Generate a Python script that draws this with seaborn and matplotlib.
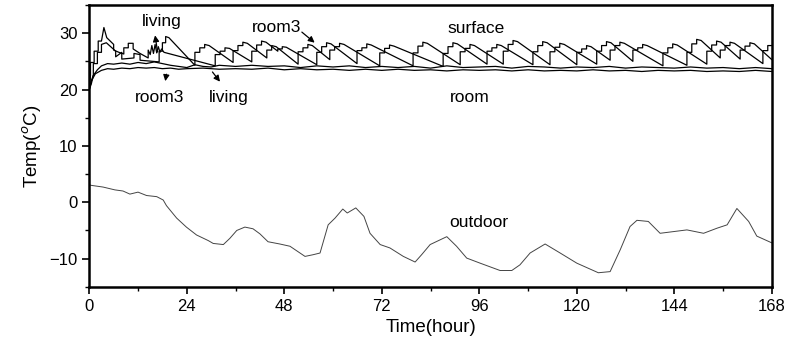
import matplotlib
matplotlib.use('Agg')

import numpy as np
import pandas as pd
import matplotlib.pyplot as plt
import seaborn as sns

# ------------------------------------------------------------------------
# data (time in hours, temperature in degC)
# ------------------------------------------------------------------------

outdoor_t = [0.0, 0.5, 3.4, 6.3, 8.3, 10.0, 12.0, 14.1, 16.6, 18.2, 19.0, 21.5, 23.9,
             26.4, 29.3, 30.5, 33.0, 34.6, 36.3, 38.3, 40.3, 42.0, 44.0, 46.9, 49.4,
             53.1, 55.1, 56.8, 58.8, 60.5, 62.4, 63.5, 65.6, 67.6, 69.1, 71.6, 74.0,
             77.3, 80.2, 81.8, 83.9, 88.0, 90.4, 92.9, 96.2, 101.1, 104.0, 106.0,
             108.5, 112.2, 115.9, 120.0, 125.3, 128.2, 130.7, 133.1, 134.8, 137.6,
             140.5, 143.8, 147.1, 151.2, 154.5, 157.0, 159.4, 162.3, 164.3, 168.0]
outdoor_T = [3.1, 3.0, 2.7, 2.2, 2.0, 1.45, 1.8, 1.2, 1.0, 0.4, -0.6, -2.8, -4.4,
             -5.8, -6.8, -7.3, -7.5, -6.4, -5.0, -4.4, -4.7, -5.6, -7.0, -7.4, -7.8,
             -9.6, -9.3, -9.0, -4.0, -2.8, -1.2, -1.9, -1.0, -2.5, -5.5, -7.5, -8.1,
             -9.6, -10.6, -9.3, -7.5, -6.1, -7.8, -9.9, -10.8, -12.1, -12.1, -11.1,
             -9.0, -7.4, -9.0, -10.8, -12.5, -12.3, -8.4, -4.3, -3.2, -3.4,
             -5.5, -5.2, -4.9, -5.5, -4.6, -4.0, -1.1, -3.4, -6.0, -7.2]

surf_living_t = [0, 0.3, 0.3, 1.2, 1.2, 2.2, 2.2, 3.0, 3.6, 4.3, 6.0, 6.0, 7.3, 8.5,
                 8.5, 9.6, 9.6, 10.8, 10.8, 12.5, 14.5,
                 14.5, 15.0, 15.4, 15.8, 16.2, 16.6, 17.0, 17.4, 17.8, 18.4, 31.0,
                 31.0, 32.2, 32.2, 33.4, 33.4, 34.5, 40.0,
                 40.0, 41.2, 41.2, 42.4, 42.4, 43.5, 46.4,
                 46.4, 47.5, 47.5, 48.5, 56.0,
                 56.0, 57.2, 57.2, 58.4, 58.4, 59.5, 65.9,
                 65.9, 67.1, 67.1, 68.3, 68.3, 69.4, 79.7,
                 79.7, 80.9, 80.9, 82.1, 82.1, 83.2, 91.3,
                 91.3, 92.5, 92.5, 93.7, 93.7, 94.8, 101.9,
                 101.9, 103.1, 103.1, 104.3, 104.3, 105.4, 113.4,
                 113.4, 114.6, 114.6, 115.8, 115.8, 116.9, 124.9,
                 124.9, 126.1, 126.1, 127.3, 127.3, 128.4, 133.8,
                 133.8, 135.0, 135.0, 136.2, 136.2, 137.3, 147.1,
                 147.1, 148.3, 148.3, 149.5, 149.5, 150.6, 155.3,
                 155.3, 156.5, 156.5, 157.7, 157.7, 158.8, 165.8,
                 165.8, 167.0, 167.0, 168.0]
surf_living_T = [20.0, 22.5, 24.8, 24.8, 26.8, 26.8, 28.6, 28.6, 31.0, 29.2, 28.0, 27.0, 26.6, 26.3,
                 27.4, 27.4, 28.2, 28.2, 27.2, 26.4, 25.6,
                 27.0, 26.2, 27.8, 26.4, 28.0, 26.5, 27.6, 26.6, 27.2, 26.6, 24.2,
                 26.2, 26.2, 26.8, 26.8, 27.4, 27.3, 24.9,
                 26.8, 26.8, 27.9, 27.9, 28.6, 28.4, 26.8,
                 27.2, 27.2, 27.6, 27.5, 24.4,
                 26.6, 26.6, 27.6, 27.6, 28.3, 28.1, 24.6,
                 26.9, 26.9, 27.4, 27.4, 28.1, 27.9, 24.2,
                 26.5, 26.5, 27.7, 27.7, 28.4, 28.2, 24.4,
                 26.7, 26.7, 27.3, 27.3, 28.0, 27.8, 24.5,
                 26.8, 26.8, 28.0, 28.0, 28.7, 28.5, 24.4,
                 26.7, 26.7, 27.5, 27.5, 28.2, 28.0, 24.5,
                 26.8, 26.8, 27.8, 27.8, 28.5, 28.3, 25.0,
                 27.0, 27.0, 27.4, 27.4, 28.0, 27.8, 24.3,
                 26.6, 26.6, 28.1, 28.1, 28.9, 28.7, 25.6,
                 27.0, 27.0, 27.8, 27.8, 28.4, 28.2, 24.6,
                 26.9, 26.9, 27.8, 27.8]

surf_room3_t = [0, 0.5, 1.0, 1.0, 2.0, 2.0, 3.0, 3.0, 4.2, 6.5, 6.5, 8.0, 8.0, 11.0, 11.0, 12.5, 12.5, 17.2,
                17.2, 18.0, 18.0, 18.8, 18.8, 19.6, 26.0,
                26.0, 27.2, 27.2, 28.4, 28.4, 29.5, 35.4,
                35.4, 36.6, 36.6, 37.8, 37.8, 38.9, 43.7,
                43.7, 44.9, 44.9, 46.0, 51.4,
                51.4, 52.6, 52.6, 53.8, 53.8, 54.9, 59.2,
                59.2, 60.4, 60.4, 61.6, 61.6, 62.7, 71.5,
                71.5, 72.7, 72.7, 73.9, 73.9, 75.0, 87.1,
                87.1, 88.3, 88.3, 89.5, 89.5, 90.6, 97.9,
                97.9, 99.1, 99.1, 100.3, 100.3, 101.4, 109.2,
                109.2, 110.4, 110.4, 111.6, 111.6, 112.7, 120.0,
                120.0, 121.2, 121.2, 122.4, 122.4, 123.5, 128.2,
                128.2, 129.4, 129.4, 130.6, 130.6, 131.7, 141.2,
                141.2, 142.4, 142.4, 143.6, 143.6, 144.7, 152.0,
                152.0, 153.2, 153.2, 154.4, 154.4, 155.5, 160.2,
                160.2, 161.4, 161.4, 162.6, 162.6, 163.7, 168.0]
surf_room3_T = [20.0, 21.5, 22.6, 24.6, 24.6, 26.6, 26.6, 28.0, 28.3, 26.8, 25.8, 26.6, 25.4, 25.6, 26.4, 26.2, 25.2, 24.9,
                26.8, 26.8, 28.3, 28.3, 29.4, 29.2, 24.3,
                26.6, 26.6, 27.4, 27.4, 28.0, 27.8, 24.8,
                26.9, 26.9, 27.8, 27.8, 28.4, 28.2, 25.6,
                27.0, 27.0, 27.8, 27.6, 24.5,
                26.7, 26.7, 27.4, 27.4, 28.0, 27.8, 25.3,
                27.0, 27.0, 27.6, 27.6, 28.2, 28.0, 24.2,
                26.5, 26.5, 27.3, 27.3, 27.9, 27.7, 24.1,
                26.4, 26.4, 27.6, 27.6, 28.3, 28.1, 24.5,
                26.8, 26.8, 27.4, 27.4, 28.0, 27.8, 24.4,
                26.7, 26.7, 27.8, 27.8, 28.5, 28.3, 24.4,
                26.6, 26.6, 27.2, 27.2, 27.8, 27.6, 25.2,
                27.0, 27.0, 27.8, 27.8, 28.4, 28.2, 24.2,
                26.5, 26.5, 27.4, 27.4, 28.1, 27.9, 24.5,
                26.8, 26.8, 27.9, 27.9, 28.6, 28.4, 25.4,
                27.0, 27.0, 27.7, 27.7, 28.3, 28.1, 25.3]

room_living_t = [0, 0.5, 1.0, 2.0, 3.0, 4.5, 6, 8, 10, 12, 14, 16, 18, 20, 22, 24, 26, 28, 30,
                 32, 36, 40, 44, 48, 52, 56, 60, 64, 68, 72, 76, 80, 84, 88, 92, 96, 100,
                 104, 108, 112, 116, 120, 124, 128, 132, 136, 140, 144, 148, 152, 156,
                 160, 164, 168]
room_living_T = [20.0, 21.0, 22.5, 23.5, 24.2, 24.6, 24.5, 24.7, 24.5, 24.8, 24.6, 24.9, 24.6,
                 24.3, 24.1, 23.9, 24.4, 24.1, 24.0, 24.3, 24.1, 24.3, 24.1, 24.2, 23.9,
                 24.2, 24.0, 24.2, 23.9, 24.1, 23.9, 24.1, 23.8, 24.2, 23.9, 24.0, 24.1,
                 23.8, 24.1, 24.0, 23.8, 24.0, 23.9, 24.1, 23.8, 24.0, 23.9, 23.8, 24.0,
                 23.8, 23.9, 23.7, 23.9, 23.7]

room3_t = [0, 0.5, 1.5, 3.0, 4.5, 6, 8, 10, 12, 14, 16, 18, 20, 22, 24, 28, 32, 36, 40, 44,
           48, 52, 56, 60, 64, 68, 72, 76, 80, 84, 88, 92, 96, 100, 104, 108, 112, 116,
           120, 124, 128, 132, 136, 140, 144, 148, 152, 156, 160, 164, 168]
room3_T = [20.0, 21.5, 22.8, 23.4, 23.7, 23.6, 23.8, 23.7, 23.9, 23.8, 23.9, 23.7, 23.8,
           23.6, 23.7, 23.8, 23.6, 23.7, 23.6, 23.8, 23.5, 23.7, 23.5, 23.6, 23.4,
           23.6, 23.4, 23.6, 23.4, 23.5, 23.3, 23.5, 23.4, 23.5, 23.3, 23.5, 23.3,
           23.4, 23.3, 23.5, 23.3, 23.4, 23.2, 23.4, 23.3, 23.4, 23.2, 23.3, 23.2,
           23.4, 23.2]

x_ticks = [0, 24, 48, 72, 96, 120, 144, 168]
y_ticks = [-10, 0, 10, 20, 30]

# ------------------------------------------------------------------------
# plotting
# ------------------------------------------------------------------------

sns.set_style("ticks")
plt.rcParams['font.family'] = ['Liberation Sans Narrow', 'Liberation Sans', 'DejaVu Sans']
plt.rcParams['text.color'] = 'black'
plt.rcParams['axes.labelcolor'] = 'black'
plt.rcParams['xtick.color'] = 'black'
plt.rcParams['ytick.color'] = 'black'

fig = plt.figure(figsize=(7.9, 3.55), dpi=100)
ax = fig.add_axes([0.113, 0.192, 0.864, 0.794])

series = [
    (surf_living_t, surf_living_T),
    (surf_room3_t, surf_room3_T),
    (room_living_t, room_living_T),
    (room3_t, room3_T),
]
for t, T in series:
    sns.lineplot(x=t, y=T, ax=ax, color='black', lw=0.9, sort=False, estimator=None)

sns.lineplot(x=outdoor_t, y=outdoor_T, ax=ax, color='#444444', lw=0.7, sort=False, estimator=None)

ax.set_xlim(0, 168)
ax.set_ylim(-15, 35)
ax.set_xticks(x_ticks)
ax.set_xticks([12, 36, 60, 84, 108, 132, 156], minor=True)
ax.set_yticks(y_ticks)
ax.set_yticks([-15, -5, 5, 15, 25, 35], minor=True)
ax.tick_params(which='major', direction='out', length=5, width=1.2, labelsize=12, colors='black')
ax.tick_params(which='minor', direction='out', length=3, width=1.0, colors='black')
for s in ax.spines.values():
    s.set_visible(True)
    s.set_linewidth(1.8)
    s.set_color('black')

ax.set_xlabel('Time(hour)', fontsize=13.5, color='black')
ax.set_ylabel('Temp($^{o}$C)', fontsize=13.5, color='black')

# labels and arrows
txt = dict(fontsize=12.5, ha='center', va='center', color='black')
ax.text(17.9, 32.1, 'living', **txt)
ax.text(46.2, 31.0, 'room3', **txt)
ax.text(95.2, 30.8, 'surface', **txt)
ax.text(17.4, 18.6, 'room3', **txt)
ax.text(34.4, 18.6, 'living', **txt)
ax.text(93.7, 18.6, 'room', **txt)
ax.text(95.9, -3.5, 'outdoor', **txt)

arw = dict(arrowstyle='-|>', color='black', lw=0.9, mutation_scale=9)
ax.annotate('', xy=(16.1, 30.1), xytext=(16.9, 26.2), arrowprops=arw)
ax.annotate('', xy=(56.0, 28.0), xytext=(51.8, 30.5), arrowprops=arw)
ax.annotate('', xy=(18.6, 21.0), xytext=(19.1, 23.2), arrowprops=arw)
ax.annotate('', xy=(32.6, 21.0), xytext=(29.9, 23.5), arrowprops=arw)

fig.savefig('out.png', dpi=100)
